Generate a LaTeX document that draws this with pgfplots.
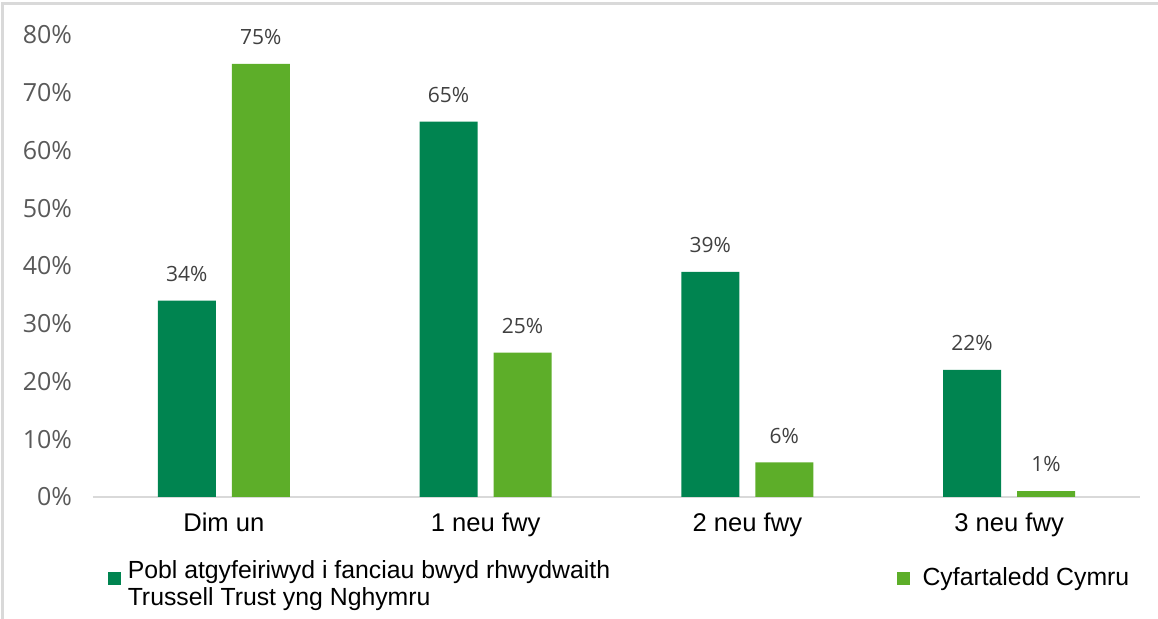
\documentclass[border=0pt]{standalone}
\usepackage{fontspec}
\setmainfont{Liberation Sans}
\newfontfamily\osans{Open Sans}
\usepackage{pgfplots}
\pgfplotsset{compat=1.18}
\definecolor{dkgreen}{RGB}{0,132,80}
\definecolor{ltgreen}{RGB}{93,174,41}
\definecolor{ticktxt}{RGB}{89,89,89}
\definecolor{lbltxt}{RGB}{64,64,64}
\definecolor{axgrey}{RGB}{217,217,217}
\begin{document}
\begin{tikzpicture}[x=0.5pt,y=0.5pt]
  % frame of the figure (image px, origin at axis bottom-left, y up)
  \path[use as bounding box] (-93,-122) rectangle (1065,497);
  \draw[axgrey,line width=1.5pt] (-90,-122) -- (-90,493) -- (1065,493);
  \begin{axis}[
      at={(0,0)}, anchor=south west,
      scale only axis,
      width=523.5pt, height=231pt,
      ybar=8pt, bar width=29pt,
      xmin=-0.5, xmax=3.5,
      ymin=0, ymax=80,
      xtick=data,
      xticklabels={Dim un,1 neu fwy,2 neu fwy,3 neu fwy},
      ytick={0,10,...,80},
      yticklabel={\pgfmathprintnumber{\tick}\%},
      /pgf/number format/assume math mode=true,
      axis x line*=bottom, axis y line*=left,
      x axis line style={axgrey,line width=1pt},
      y axis line style={draw=none},
      major tick length=0pt,
      yticklabel style={font=\osans\fontsize{12.5}{14}\selectfont,text=ticktxt,xshift=-7pt},
      xticklabel style={font=\fontsize{12.8}{14}\selectfont,text=black,yshift=-4.5pt},
      nodes near coords={\pgfmathprintnumber{\pgfplotspointmeta}\%},
      every node near coord/.append style={font=\osans\fontsize{10.5}{12}\selectfont,text=lbltxt,yshift=6pt},
      legend style={draw=none, at={(0.0143,-0.176)}, anchor=west,
        font=\fontsize{12.4}{12.5}\selectfont, legend columns=2,
        /tikz/column sep=1.5pt,
        inner sep=0pt, outer sep=0pt},
      legend image code/.code={\fill[#1] (0pt,-3.2pt) rectangle (6.4pt,3.2pt);},
      clip=false,
    ]
    \addplot[fill=dkgreen, draw=none] coordinates {(0,34) (1,65) (2,39) (3,22)};
    \addplot[fill=ltgreen, draw=none] coordinates {(0,75) (1,25) (2,6) (3,1)};
    \legend{\makebox[381pt][l]{\begin{tabular}{@{}l@{}}Pobl atgyfeiriwyd i fanciau bwyd rhwydwaith\\[0.5pt]Trussell Trust yng Nghymru\end{tabular}},\hspace{3pt}Cyfartaledd Cymru}
  \end{axis}
\end{tikzpicture}
\end{document}
